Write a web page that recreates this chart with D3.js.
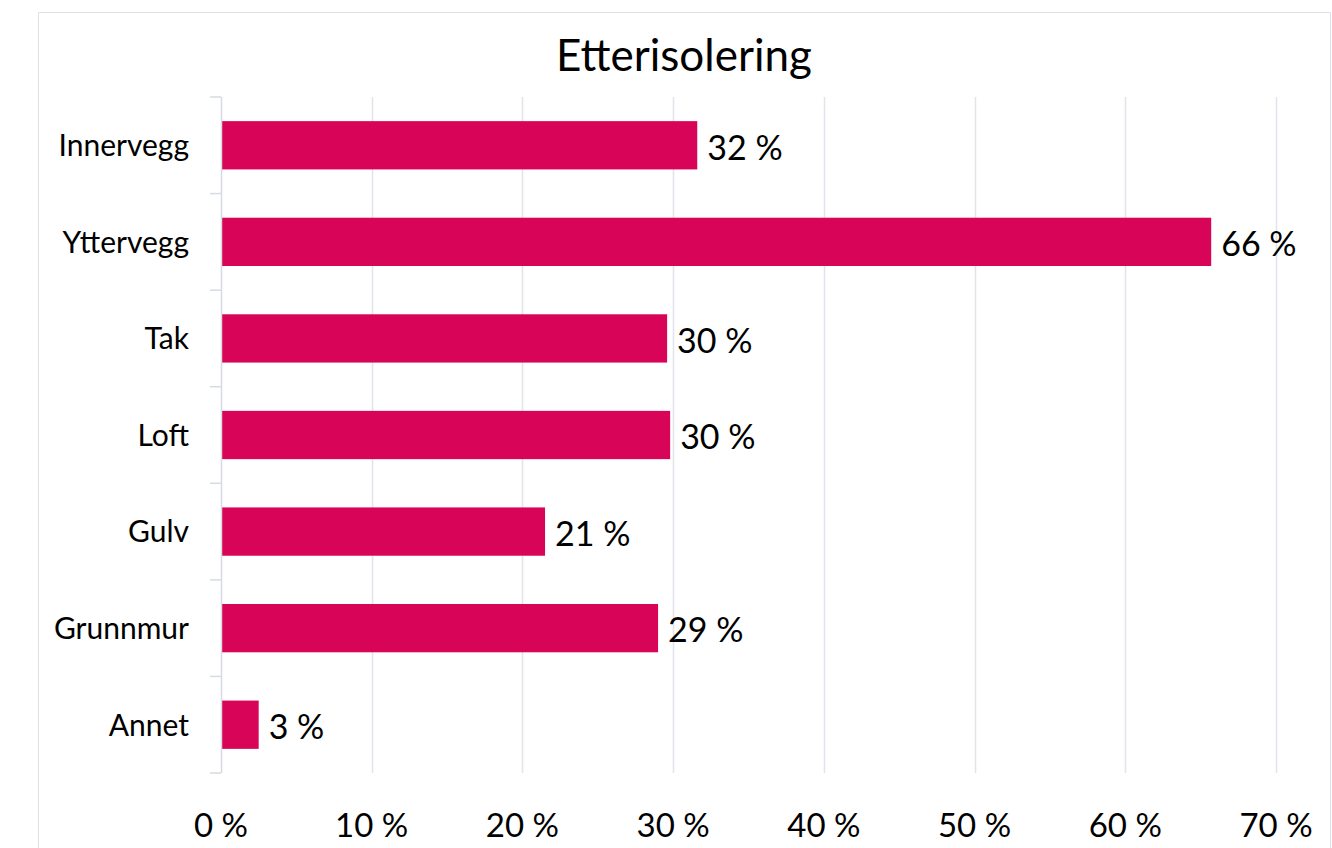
<!DOCTYPE html>
<html>
<head>
<meta charset="utf-8">
<script src="https://cdn.jsdelivr.net/npm/d3@7"></script>
<style>
  body { margin: 0; background: #fff; }
  svg { display: block; font-family: Lato, "Open Sans", sans-serif; }
</style>
</head>
<body>
<svg id="chart"></svg>
<script>
// Data
const categories = ["Innervegg", "Yttervegg", "Tak", "Loft", "Gulv", "Grunnmur", "Annet"];
const values = [31.6, 65.7, 29.6, 29.8, 21.5, 29.0, 2.5];
const labels = ["32 %", "66 %", "30 %", "30 %", "21 %", "29 %", "3 %"];
const xTicks = [0, 10, 20, 30, 40, 50, 60, 70];
const title = "Etterisolering";

const width = 1332;
const height = 848;
const margin = { top: 97, right: 58, bottom: 75, left: 221 };
const innerWidth = 1276 - margin.left;
const innerHeight = 773 - margin.top;

const svg = d3.select("#chart").attr("width", width).attr("height", height);

// Chart border (bottom edge lies outside the picture)
svg.append("path")
  .attr("d", "M38.5,848V12.5H1330.5V848")
  .attr("fill", "none")
  .attr("stroke", "#dde1e6")
  .attr("stroke-width", 1);

svg.append("text")
  .attr("x", 684).attr("y", 71)
  .attr("text-anchor", "middle")
  .style("font-size", "44px")
  .attr("fill", "#000")
  .text(title);

const g = svg.append("g")
  .attr("transform", `translate(${margin.left},${margin.top})`);

const xScale = d3.scaleLinear().domain([0, 70]).range([0, innerWidth]);
const yScale = d3.scaleBand().domain(categories).range([0, innerHeight]).paddingInner(0.5).paddingOuter(0.25);

// Grid lines
g.append("g")
  .selectAll("line")
  .data(xTicks.slice(1))
  .join("line")
  .attr("x1", d => Math.round(xScale(d)) + 0.5)
  .attr("x2", d => Math.round(xScale(d)) + 0.5)
  .attr("y1", 0).attr("y2", innerHeight)
  .attr("stroke", "#e1e4e9")
  .attr("stroke-width", 1.5);

// Bars
g.selectAll("rect.bar")
  .data(categories)
  .join("rect")
  .attr("class", "bar")
  .attr("x", 0)
  .attr("y", d => yScale(d))
  .attr("width", (d, i) => xScale(values[i]))
  .attr("height", yScale.bandwidth())
  .attr("fill", "#d70457");

// Data labels
g.selectAll("text.val")
  .data(categories)
  .join("text")
  .attr("class", "val")
  .attr("x", (d, i) => xScale(values[i]) + 10)
  .attr("y", d => yScale(d) + yScale.bandwidth() / 2 + 2)
  .attr("dy", "0.36em")
  .style("font-size", "34px")
  .attr("fill", "#000")
  .text((d, i) => labels[i]);

// Y axis: line with ticks at band boundaries
const step = yScale.step();
const yAxis = g.append("g");
yAxis.append("line")
  .attr("x1", 0.5).attr("x2", 0.5)
  .attr("y1", 0).attr("y2", innerHeight)
  .attr("stroke", "#d6dbe2")
  .attr("stroke-width", 1.5);
yAxis.selectAll("line.tick")
  .data(d3.range(categories.length + 1))
  .join("line")
  .attr("class", "tick")
  .attr("x1", -11).attr("x2", 0)
  .attr("y1", i => i * step).attr("y2", i => i * step)
  .attr("stroke", "#d6dbe2")
  .attr("stroke-width", 1.5);
yAxis.selectAll("text")
  .data(categories)
  .join("text")
  .attr("x", -32)
  .attr("y", d => yScale(d) + yScale.bandwidth() / 2)
  .attr("dy", "0.36em")
  .attr("text-anchor", "end")
  .style("font-size", "30px")
  .attr("fill", "#000")
  .text(d => d);

// X axis labels
g.append("g")
  .attr("transform", `translate(0,${innerHeight})`)
  .selectAll("text")
  .data(xTicks)
  .join("text")
  .attr("x", d => xScale(d))
  .attr("y", 64)
  .attr("text-anchor", "middle")
  .style("font-size", "33px")
  .attr("fill", "#000")
  .text(d => d + " %");
</script>
</body>
</html>
